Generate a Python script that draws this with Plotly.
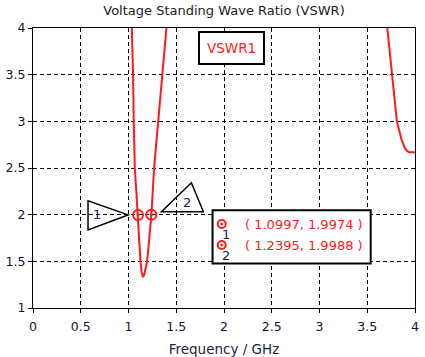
import plotly.graph_objects as go

# ---- data ----
freq_ghz = [1.026, 1.035, 1.042, 1.048, 1.055, 1.066, 1.082, 1.0997, 1.112, 1.126, 1.138,
            1.153, 1.168, 1.180, 1.195, 1.212, 1.2395, 1.268, 1.31, 1.352, 1.398, 1.41,
            None,
            3.70, 3.71, 3.757, 3.81, 3.86, 3.895, 3.92, 3.94, 4.0]
vswr = [4.3, 4.0, 3.75, 3.5, 3.0, 2.5, 2.25, 1.9974, 1.72, 1.5, 1.38,
        1.33, 1.37, 1.43, 1.5, 1.68, 1.9988, 2.5, 3.0, 3.5, 4.0, 4.15,
        None,
        4.1, 4.0, 3.5, 3.0, 2.80, 2.71, 2.68, 2.67, 2.67]

marker_ids = ["1", "2"]
marker_freq = [1.0997, 1.2395]
marker_vswr = [1.9974, 1.9988]

x_ticks = [0, 0.5, 1, 1.5, 2, 2.5, 3, 3.5, 4]
y_ticks = [1, 1.5, 2, 2.5, 3, 3.5, 4]

RED = "#ff1a1a"
NAVY = "#23234f"
FONT = "DejaVu Sans"

fig = go.Figure()
fig.add_trace(go.Scatter(x=freq_ghz, y=vswr, mode="lines",
                         line=dict(color=RED, width=2), connectgaps=False,
                         hoverinfo="skip", showlegend=False))
fig.add_trace(go.Scatter(x=marker_freq, y=marker_vswr, mode="markers",
                         marker=dict(symbol="circle-open-dot", size=10, color=RED,
                                     line=dict(width=2, color=RED)),
                         showlegend=False))

shapes = []
annotations = []

# marker callout triangles (pixel offsets anchored on the marker data points)
tri_paths = ["M -10 0 L -50 14 L -50 -15 Z", "M 10 3 L 40 32 L 52 3 Z"]
label_shift = [(-41, 0), (36, 12)]
for mid, fx, fy, path, (dx, dy) in zip(marker_ids, marker_freq, marker_vswr, tri_paths, label_shift):
    shapes.append(dict(type="path", xref="x", yref="y", xsizemode="pixel", ysizemode="pixel",
                       xanchor=fx, yanchor=fy, path=path,
                       line=dict(color="black", width=1.5), fillcolor="rgba(0,0,0,0)"))
    annotations.append(dict(x=fx, y=fy, xref="x", yref="y", text=mid, showarrow=False,
                            xanchor="center", yanchor="middle",
                            xshift=dx, yshift=dy, font=dict(family=FONT, size=13, color=NAVY)))

# data box
shapes.append(dict(type="rect", xref="paper", yref="paper", x0=0.470, x1=0.884, y0=0.159, y1=0.349,
                   line=dict(color="black", width=2), fillcolor="white", layer="above"))
row_y = [0.300, 0.225]
for mid, fx, fy, ry in zip(marker_ids, marker_freq, marker_vswr, row_y):
    shapes.append(dict(type="circle", xref="paper", yref="paper", xsizemode="pixel", ysizemode="pixel",
                       xanchor=0.494, yanchor=ry, x0=-4, x1=4, y0=-4, y1=4,
                       line=dict(color=RED, width=2), fillcolor="white", layer="above"))
    shapes.append(dict(type="circle", xref="paper", yref="paper", xsizemode="pixel", ysizemode="pixel",
                       xanchor=0.494, yanchor=ry, x0=-1, x1=1, y0=-1, y1=1,
                       line=dict(color=RED, width=1), fillcolor=RED, layer="above"))
    annotations.append(dict(x=0.549, y=ry, xref="paper", yref="paper", xanchor="left", yanchor="middle",
                            text=f"( {fx:.4f}, {fy:.4f} )", showarrow=False,
                            font=dict(family=FONT, size=13, color=RED)))
    annotations.append(dict(x=0.494, y=ry, xref="paper", yref="paper", text=mid, showarrow=False,
                            xanchor="center", yanchor="middle",
                            xshift=4, yshift=-10, font=dict(family=FONT, size=13, color=NAVY)))

# trace name box
annotations.append(dict(x=0.520, y=0.930, xref="paper", yref="paper", text="VSWR1", showarrow=False,
                        xanchor="center", yanchor="middle",
                        font=dict(family=FONT, size=13.5, color=RED),
                        bordercolor="black", borderwidth=2, borderpad=7, bgcolor="white"))

axis_common = dict(showgrid=True, gridcolor="black", gridwidth=1, griddash="4px,3px",
                   showline=True, linecolor="black", linewidth=1, mirror=True,
                   ticks="outside", ticklen=4, tickcolor="black", zeroline=False,
                   tickfont=dict(family=FONT, size=12.5, color="#151535"))

fig.update_layout(
    width=425, height=357,
    margin=dict(l=33, r=10, t=28, b=49, autoexpand=False),
    paper_bgcolor="white", plot_bgcolor="white",
    title=dict(text="Voltage Standing Wave Ratio (VSWR)", x=0.5, xref="paper", xanchor="center",
               y=1 - 10 / 357, yanchor="middle", yref="container",
               font=dict(family=FONT, size=13, color="#222222")),
    xaxis=dict(range=[0, 4], tickvals=x_ticks, ticktext=[f"{v:g}" for v in x_ticks],
               ticklabelstandoff=3,
               title=dict(text="Frequency / GHz", standoff=11,
                          font=dict(family=FONT, size=13.5, color="#222244")),
               **axis_common),
    yaxis=dict(range=[1, 4], tickvals=y_ticks, ticktext=[f"{v:g}" for v in y_ticks],
               **axis_common),
    shapes=shapes, annotations=annotations,
)

# remove the default 8px page margin so the 425x357 figure fills the window exactly
fig.write_html("out.html", config={"displayModeBar": False},
               post_script="document.body.style.margin='0px';document.body.style.overflow='hidden';")
